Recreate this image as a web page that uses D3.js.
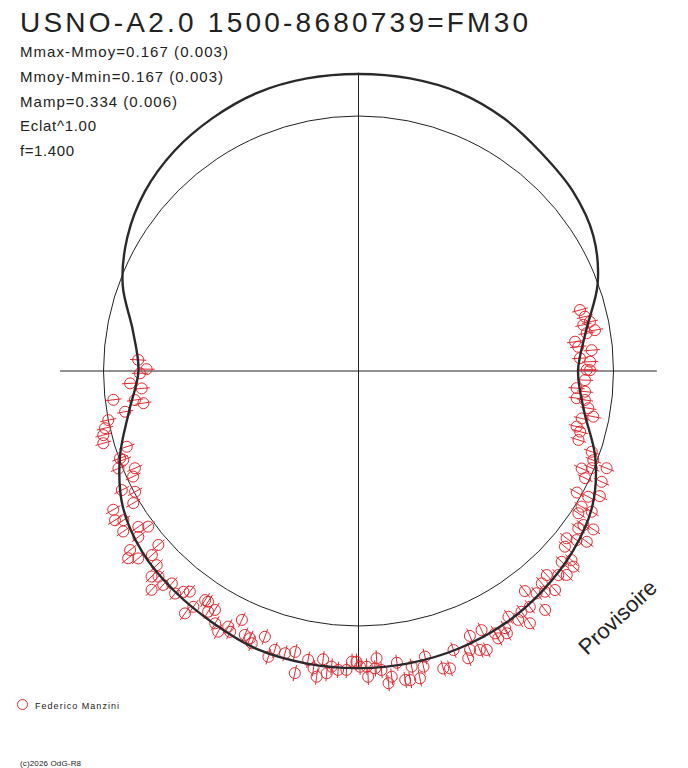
<!DOCTYPE html>
<html>
<head>
<meta charset="utf-8">
<script src="https://cdn.jsdelivr.net/npm/d3@7"></script>
<style>
  body { margin: 0; background: #fff; }
  svg { display: block; font-family: "Liberation Sans", Arial, sans-serif; }
</style>
</head>
<body>
<div id="chart"></div>
<script>

// title and header lines
var titleText = "USNO-A2.0 1500-8680739=FM30";
var statLines = [
  "Mmax-Mmoy=0.167 (0.003)",
  "Mmoy-Mmin=0.167 (0.003)",
  "Mamp=0.334 (0.006)",
  "Eclat^1.00",
  "f=1.400"
];
var statWidths = [208, 203, 157, 76, 54];
var observerName = "Federico Manzini";
var copyrightText = "(c)2026 OdG-R8";
var stampText = "Provisoire";

// model curve: phase in degrees (0 = top, clockwise), relative brightness
var curvePhase = [0, 10, 20, 30, 40, 50, 60, 70, 80, 90, 100, 110,
                  120, 130, 140, 150, 160, 170, 180, 190, 200, 210, 220, 230,
                  240, 250, 260, 270, 280, 290, 300, 310, 320, 330, 340, 350];
var curveFlux = [1.165, 1.165, 1.161, 1.143, 1.116, 1.097, 1.063, 0.998, 0.906, 0.861, 0.898, 0.988,
                 1.059, 1.098, 1.124, 1.145, 1.157, 1.163, 1.165, 1.165, 1.161, 1.141, 1.125, 1.106,
                 1.067, 0.996, 0.914, 0.863, 0.898, 0.984, 1.047, 1.094, 1.125, 1.145, 1.161, 1.165];

// observations: phase (deg) and relative brightness
var obsPhase = [
  74.6, 76.5, 78.4, 78.0, 80.2, 80.6, 82.3, 83.7, 84.9, 86.7, 87.7, 89.7, 89.8, 92.3, 94.5, 95.2,
  97.1, 97.3, 99.2, 101.0, 102.0, 104.3, 105.3, 107.4, 109.1, 110.8, 113.6, 112.6, 111.4, 115.3, 114.5,
  119.1, 118.7, 117.4, 121.3, 121.1, 122.9, 125.6, 124.4, 124.0, 128.8, 127.8, 126.8, 130.4, 133.2,
  131.6, 132.3, 134.4, 137.3, 135.6, 139.2, 138.1, 139.8, 142.9, 141.3, 142.0, 144.0, 145.9, 148.6,
  147.3, 145.8, 150.3, 152.5, 150.5, 154.6, 157.2, 152.4, 156.5, 155.3, 158.2, 159.1,
  194.6, 192.7, 189.9, 187.0, 191.9, 188.6, 187.8, 186.0, 185.2, 183.9, 182.3, 181.3, 179.7, 178.4,
  178.2, 176.4, 176.8, 175.6, 173.8, 174.5, 172.5, 171.4, 170.5, 169.8, 168.7, 166.9, 167.6, 164.1,
  162.9, 161.2, 180.4,
  235.7, 233.0, 229.0, 231.9, 230.9, 229.6, 228.3, 226.1, 225.2, 224.2, 223.4, 222.4, 221.3, 219.5,
  218.4, 217.4, 215.0, 215.6, 213.8, 213.1, 212.0, 211.0, 209.6, 208.3, 207.0, 206.2, 205.1, 203.3,
  202.1, 201.4, 199.4, 196.7, 197.5,
  272.9, 270.5, 269.4, 266.9, 265.4, 263.3, 262.6, 261.5, 260.1, 258.9, 257.3, 255.9, 254.2, 251.9,
  249.9, 249.3, 247.9, 246.5, 244.9, 243.3, 241.6, 239.6, 240.5, 238.5, 237.6, 234.7, 233.5
];
var obsFlux = [
  0.901, 0.913, 0.900, 0.928, 0.941, 0.907, 0.857, 0.867, 0.918, 0.870, 0.909, 0.895, 0.908, 0.889, 0.858, 0.892,
  0.862, 0.895, 0.913, 0.938, 0.895, 0.883, 0.901, 0.904, 0.968, 0.985, 0.955, 0.991, 1.045, 0.983, 1.048,
  0.980, 1.027, 1.066, 1.024, 1.068, 1.027, 1.060, 1.069, 1.111, 1.047, 1.082, 1.118, 1.063, 1.093,
  1.117, 1.140, 1.143, 1.089, 1.120, 1.100, 1.154, 1.133, 1.082, 1.117, 1.189, 1.143, 1.140, 1.129,
  1.160, 1.196, 1.161, 1.160, 1.182, 1.125, 1.127, 1.183, 1.193, 1.204, 1.178, 1.206,
  1.144, 1.129, 1.150, 1.139, 1.211, 1.179, 1.210, 1.192, 1.164, 1.175, 1.173, 1.140, 1.160, 1.160,
  1.200, 1.129, 1.168, 1.176, 1.206, 1.230, 1.154, 1.225, 1.229, 1.178, 1.229, 1.150, 1.187, 1.213,
  1.220, 1.156, 1.140,
  1.117, 1.081, 1.040, 1.138, 1.164, 1.134, 1.085, 1.098, 1.144, 1.125, 1.181, 1.136, 1.109, 1.131,
  1.105, 1.089, 1.129, 1.169, 1.081, 1.080, 1.113, 1.093, 1.138, 1.161, 1.125, 1.140, 1.078, 1.127,
  1.131, 1.147, 1.105, 1.142, 1.175,
  0.865, 0.831, 0.857, 0.897, 0.853, 0.968, 0.884, 0.853, 0.929, 1.000, 1.019, 1.032, 1.040, 0.956,
  0.996, 0.986, 1.016, 0.956, 0.976, 1.039, 0.996, 1.024, 1.105, 1.120, 1.092, 1.058, 1.026
];
var obsErr = 0.032;     // half length of the radial error bar
var axisExtent = 1.17;  // the cross reaches a bit past the curve

var width = 688, height = 768;
var cx = 358.5, cy = 371, meanRadius = 255;
var red = "#e8282e", ink = "#222";

var svg = d3.select("#chart").append("svg")
  .attr("width", width)
  .attr("height", height);

// radial scale: relative brightness 1 = mean circle
var r = d3.scaleLinear().domain([0, 1]).range([0, meanRadius]);
var ang = d3.scaleLinear().domain([0, 360]).range([0, 2 * Math.PI]);

var plot = svg.append("g").attr("transform", "translate(" + cx + "," + cy + ")");

// cross
plot.append("line")
  .attr("x1", -r(axisExtent)).attr("x2", r(axisExtent))
  .attr("y1", 0).attr("y2", 0)
  .style("stroke", ink).style("stroke-width", 1);
plot.append("line")
  .attr("x1", 0).attr("x2", 0)
  .attr("y1", -r(axisExtent)).attr("y2", r(axisExtent))
  .style("stroke", ink).style("stroke-width", 1);

// mean brightness circle
plot.append("circle")
  .attr("r", r(1))
  .style("fill", "none")
  .style("stroke", ink)
  .style("stroke-width", 1);

// observations
var obs = obsPhase.map(function(p, i) { return { phase: p, flux: obsFlux[i] }; });

var marks = plot.append("g").selectAll("g")
  .data(obs)
  .enter()
  .append("g");

marks.append("line")
  .attr("x1", function(d) { return d3.pointRadial(ang(d.phase), r(d.flux - obsErr))[0]; })
  .attr("y1", function(d) { return d3.pointRadial(ang(d.phase), r(d.flux - obsErr))[1]; })
  .attr("x2", function(d) { return d3.pointRadial(ang(d.phase), r(d.flux + obsErr))[0]; })
  .attr("y2", function(d) { return d3.pointRadial(ang(d.phase), r(d.flux + obsErr))[1]; })
  .style("stroke", red)
  .style("stroke-width", 1);

marks.append("circle")
  .attr("cx", function(d) { return d3.pointRadial(ang(d.phase), r(d.flux))[0]; })
  .attr("cy", function(d) { return d3.pointRadial(ang(d.phase), r(d.flux))[1]; })
  .attr("r", 5.5)
  .style("fill", "none")
  .style("stroke", red)
  .style("stroke-width", 1);

// model curve
var curve = curvePhase.map(function(p, i) { return { phase: p, flux: curveFlux[i] }; });
var radial = d3.lineRadial()
  .angle(function(d) { return ang(d.phase); })
  .radius(function(d) { return r(d.flux); })
  .curve(d3.curveCatmullRomClosed.alpha(0.5));

plot.append("path")
  .datum(curve)
  .attr("d", radial)
  .style("fill", "none")
  .style("stroke", "#2a2a2a")
  .style("stroke-width", 2.4);

// header
svg.append("text")
  .attr("x", 20).attr("y", 32)
  .attr("textLength", 508)
  .attr("lengthAdjust", "spacing")
  .style("font-size", "28px")
  .style("fill", ink)
  .text(titleText);

svg.append("g").selectAll("text")
  .data(statLines)
  .enter()
  .append("text")
  .attr("x", 20)
  .attr("y", function(d, i) { return 57 + i * 24.8; })
  .attr("textLength", function(d, i) { return statWidths[i]; })
  .attr("lengthAdjust", "spacing")
  .style("font-size", "15px")
  .style("fill", ink)
  .text(function(d) { return d; });

// watermark
svg.append("text")
  .attr("transform", "translate(587,656) rotate(-43)")
  .style("font-size", "22px")
  .style("fill", ink)
  .text(stampText);

// observer legend
svg.append("circle")
  .attr("cx", 22.5).attr("cy", 704.5).attr("r", 5)
  .style("fill", "none")
  .style("stroke", red)
  .style("stroke-width", 1);
svg.append("text")
  .attr("x", 35).attr("y", 709)
  .attr("textLength", 84)
  .attr("lengthAdjust", "spacing")
  .style("font-size", "9px")
  .style("fill", ink)
  .text(observerName);

svg.append("text")
  .attr("x", 20).attr("y", 766)
  .attr("textLength", 61)
  .attr("lengthAdjust", "spacing")
  .style("font-size", "8px")
  .style("fill", ink)
  .text(copyrightText);

</script>
</body>
</html>
